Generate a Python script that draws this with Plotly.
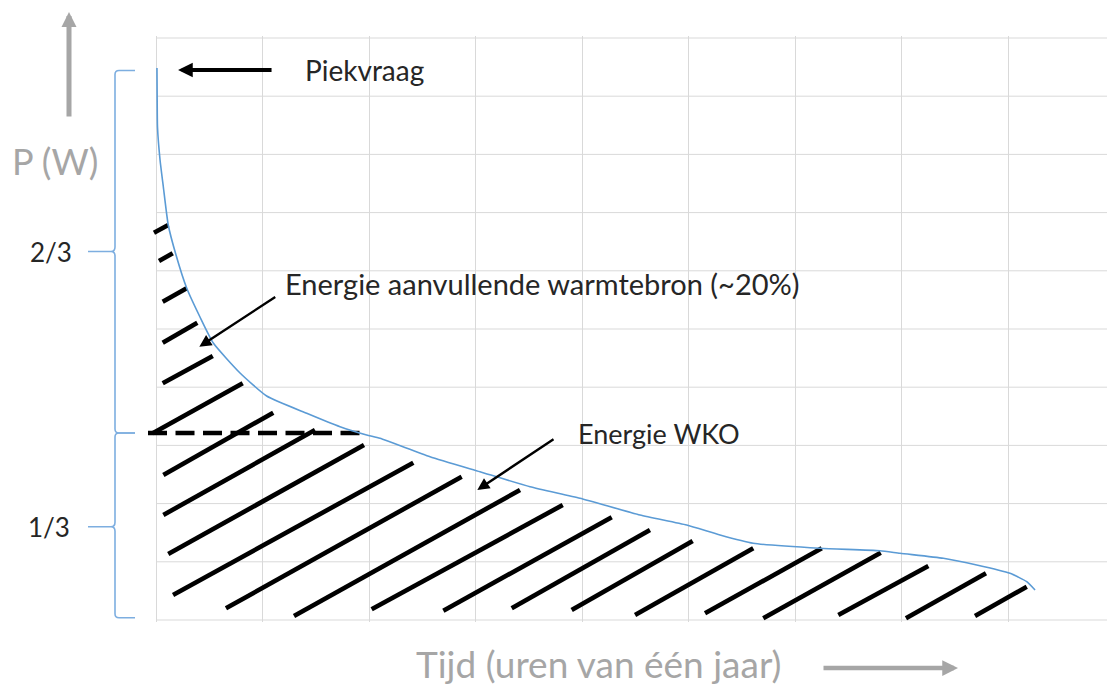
import plotly.graph_objects as go

# ---------------- data (x in grid columns of time, y in grid rows of power) ----------------
curve_x = [0.009, 0.011, 0.014, 0.038, 0.069, 0.115, 0.188, 0.288, 0.413, 0.538, 0.789, 1.039,
           1.415, 1.728, 1.978, 2.103, 2.573, 3.042, 3.512, 3.981, 4.545, 4.983, 5.296, 5.608,
           6.235, 6.798, 6.986, 7.393, 7.706, 8.019, 8.176, 8.254]
curve_y = [9.485, 8.935, 8.471, 7.904, 7.440, 6.787, 6.271, 5.704, 5.206, 4.759, 4.244, 3.849,
           3.552, 3.321, 3.179, 3.122, 2.806, 2.548, 2.290, 2.091, 1.804, 1.632, 1.460, 1.318,
           1.232, 1.191, 1.146, 1.060, 0.945, 0.802, 0.658, 0.515]

hatch_x0 = [-0.019, 0.028, 0.063, 0.063, 0.063, -0.031, 0.069, 0.069, 0.115, 0.160, 0.657,
            1.296, 2.025, 2.698, 3.340, 3.903, 4.498, 5.155, 5.702, 6.407, 7.042, 7.690]
hatch_y0 = [6.655, 6.168, 5.469, 4.765, 4.067, 3.208, 2.491, 1.804, 1.134, 0.430, 0.201,
            0.069, 0.184, 0.160, 0.201, 0.172, 0.086, 0.115, 0.029, 0.086, 0.029, 0.069]
hatch_x1 = [0.115, 0.157, 0.288, 0.388, 0.533, 0.814, 1.101, 1.493, 1.953, 2.416, 2.870,
            3.418, 3.819, 4.279, 4.638, 5.039, 5.608, 6.251, 6.805, 7.252, 7.793, 8.176]
hatch_y1 = [6.787, 6.301, 5.699, 5.108, 4.536, 4.067, 3.562, 3.265, 3.007, 2.703, 2.462,
            2.234, 1.976, 1.765, 1.546, 1.357, 1.232, 1.232, 1.156, 0.928, 0.802, 0.572]

split_x = [-0.075, 1.99]      # base-load limit (1/3 of peak)
split_y = [3.213, 3.213]

peak_point = (0.207, 9.45)          # tip of the "Piekvraag" arrow
extra_point = (0.407, 4.696)        # tip of the auxiliary-heat arrow
wko_point = (3.017, 2.234)          # tip of the WKO arrow

label_peak = "Piekvraag"
label_extra = "Energie aanvullende warmtebron (~20%)"
label_wko = "Energie WKO"
label_x = "Tijd (uren van één jaar)"
label_y = "P (W)"
brace_labels = ["2/3", "1/3"]

# ---------------- layout geometry ----------------
FIG_W, FIG_H = 1107, 688
ML, MT, MB, MR = 148, 36, 66, 0
PLOT_L = ML
PLOT_B = FIG_H - MB
PW = FIG_W - ML - MR
PH = FIG_H - MT - MB
X_RANGE = [-0.0751, -0.0751 + PW / 106.5]
Y_RANGE = [-2 / 58.2, 10 + 2 / 58.2]


def px(x):
    return (x - PLOT_L) / PW


def py(y):
    return (PLOT_B - y) / PH


GRID = "#D9D9D9"
BLUE = "#5B9BD5"
BRACE = "#7DAEE0"
GREY = "#A6A6A6"
TXT = "#262626"
FONT = "Lato"

fig = go.Figure()

# hatch lines
hx, hy = [], []
for a, b, c, d in zip(hatch_x0, hatch_y0, hatch_x1, hatch_y1):
    hx += [a, c, None]
    hy += [b, d, None]
fig.add_trace(go.Scatter(x=hx, y=hy, mode="lines", line=dict(color="black", width=4.6),
                         hoverinfo="skip", showlegend=False))

# dashed split line
fig.add_trace(go.Scatter(x=split_x, y=split_y, mode="lines",
                         line=dict(color="black", width=4.6, dash="19px,8.5px"),
                         hoverinfo="skip", showlegend=False))

# load duration curve
fig.add_trace(go.Scatter(x=curve_x, y=curve_y, mode="lines",
                         line=dict(color=BLUE, width=1.6, shape="spline", smoothing=0.5),
                         hoverinfo="skip", showlegend=False))

shapes = []
# horizontal grid lines starting at x=0
for k in range(0, 11):
    shapes.append(dict(type="line", xref="x", yref="y", x0=0, x1=X_RANGE[1], y0=k, y1=k,
                       line=dict(color=GRID, width=1), layer="below"))


def brace_path(top, mid, bot):
    pts = [
        f"M{px(135)},{py(top)}",
        f"L{px(119)},{py(top)}",
        f"Q{px(115)},{py(top)} {px(115)},{py(top + 4)}",
        f"L{px(115)},{py(mid - 4.5)}",
        f"Q{px(115)},{py(mid)} {px(111)},{py(mid)}",
        f"L{px(88)},{py(mid)}",
        f"M{px(111)},{py(mid)}",
        f"Q{px(115)},{py(mid)} {px(115)},{py(mid + 4.5)}",
        f"L{px(115)},{py(bot - 4)}",
        f"Q{px(115)},{py(bot)} {px(119)},{py(bot)}",
        f"L{px(135)},{py(bot)}",
    ]
    return " ".join(pts)


shapes.append(dict(type="path", xref="paper", yref="paper", path=brace_path(70.5, 251.5, 433),
                   line=dict(color=BRACE, width=1.6)))
shapes.append(dict(type="path", xref="paper", yref="paper", path=brace_path(433, 526.7, 617.7),
                   line=dict(color=BRACE, width=1.6)))

annotations = [
    # black arrows
    dict(x=peak_point[0], y=peak_point[1], xref="x", yref="y", text="", showarrow=True,
         ax=95, ay=0, arrowhead=2, arrowsize=0.7, arrowwidth=4.2, arrowcolor="black"),
    dict(x=extra_point[0], y=extra_point[1], xref="x", yref="y", text="", showarrow=True,
         ax=77.4, ay=-50.7, arrowhead=2, arrowsize=1.0, arrowwidth=2.4, arrowcolor="black"),
    dict(x=wko_point[0], y=wko_point[1], xref="x", yref="y", text="", showarrow=True,
         ax=77.7, ay=-51.7, arrowhead=2, arrowsize=1.0, arrowwidth=2.4, arrowcolor="black"),
    # grey axis arrows
    dict(x=px(69), y=py(12), xref="paper", yref="paper", text="", showarrow=True,
         ax=0, ay=106, arrowhead=2, arrowsize=0.6, arrowwidth=5, arrowcolor=GREY),
    dict(x=px(958), y=py(668), xref="paper", yref="paper", text="", showarrow=True,
         ax=-136, ay=0, arrowhead=2, arrowsize=0.7, arrowwidth=4.5, arrowcolor=GREY),
    # texts
    dict(x=px(303), y=py(70), xref="paper", yref="paper", text=label_peak, showarrow=False,
         xanchor="left", yanchor="middle", font=dict(family=FONT, size=28, color=TXT)),
    dict(x=px(283), y=py(283), xref="paper", yref="paper", text=label_extra, showarrow=False,
         xanchor="left", yanchor="middle", font=dict(family=FONT, size=29, color=TXT)),
    dict(x=px(576), y=py(433), xref="paper", yref="paper", text=label_wko, showarrow=False,
         xanchor="left", yanchor="middle", font=dict(family=FONT, size=27, color=TXT)),
    dict(x=px(414), y=py(663), xref="paper", yref="paper", text=label_x, showarrow=False,
         xanchor="left", yanchor="middle", font=dict(family=FONT, size=37, color=GREY)),
    dict(x=px(10), y=py(161), xref="paper", yref="paper", text=label_y, showarrow=False,
         xanchor="left", yanchor="middle", font=dict(family=FONT, size=36, color=GREY)),
    dict(x=px(28), y=py(252), xref="paper", yref="paper", text=brace_labels[0], showarrow=False,
         xanchor="left", yanchor="middle", font=dict(family=FONT, size=26, color=TXT)),
    dict(x=px(26), y=py(527), xref="paper", yref="paper", text=brace_labels[1], showarrow=False,
         xanchor="left", yanchor="middle", font=dict(family=FONT, size=26, color=TXT)),
]

fig.update_layout(
    width=FIG_W, height=FIG_H, autosize=False,
    margin=dict(l=ML, r=MR, t=MT, b=MB, pad=0),
    paper_bgcolor="white", plot_bgcolor="white",
    showlegend=False,
    shapes=shapes, annotations=annotations,
    xaxis=dict(range=X_RANGE, tick0=0, dtick=1, showgrid=True, gridcolor=GRID, gridwidth=1,
               zeroline=False, showticklabels=False, ticks="", showline=False, fixedrange=True),
    yaxis=dict(range=Y_RANGE, showgrid=False, zeroline=False, showticklabels=False, ticks="",
               showline=False, fixedrange=True),
)

fig.write_html("out.html", config={"displayModeBar": False},
               post_script="document.body.style.margin='0';document.body.style.overflow='hidden';")
